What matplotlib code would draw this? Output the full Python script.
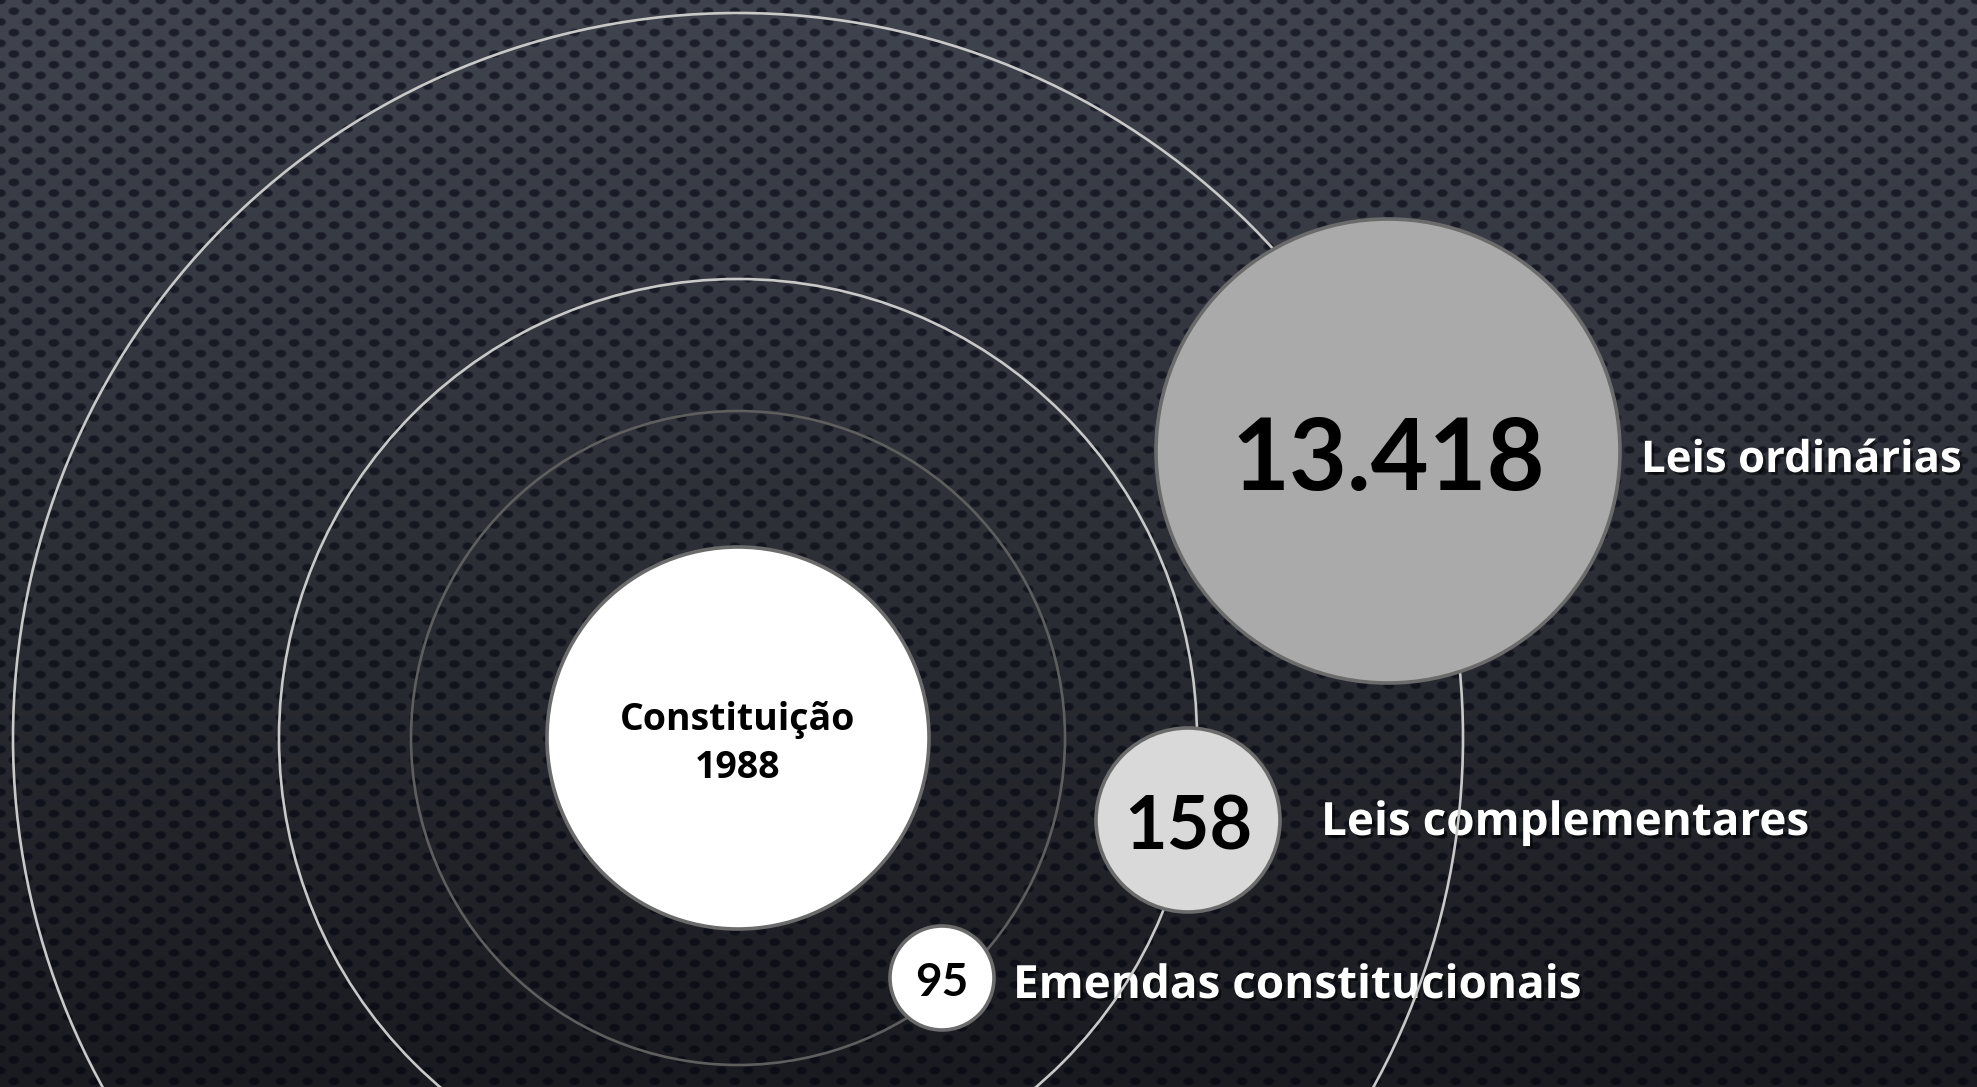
import numpy as np
import matplotlib
matplotlib.use("Agg")
import matplotlib.pyplot as plt
from matplotlib.patches import Circle
import matplotlib.patheffects as pe

# ---- data ----
center_title = "Constituição"
center_year = 1988
categories = ["Emendas constitucionais", "Leis complementares", "Leis ordinárias"]
values = [95, 158, 13418]

# ---- layout (pixels) ----
W, H = 1977, 1087
CX, CY = 738, 738
ring_radii = [327, 459, 725]
ring_colors = ["#5e5e5e", "#c9c9c9", "#c9c9c9"]
bubble_xy = [(942, 978), (1188, 820), (1388, 451)]
bubble_r = [52, 92, 232]
bubble_fill = ["#ffffff", "#d9d9d9", "#aaaaaa"]
num_size = [33, 53, 72]
num_baseline = [996, 849, 490]
label_x = [1013, 1321, 1641]
label_size = [33, 33, 31.5]
label_baseline = [998, 835, 472]

fig = plt.figure(figsize=(W / 100, H / 100), dpi=100)
ax = fig.add_axes([0, 0, 1, 1])
ax.set_xlim(0, W)
ax.set_ylim(H, 0)
ax.axis("off")

# ---- background: vertical gradient with perforated dot texture ----
yy, xx = np.mgrid[0:H, 0:W].astype(float)
t = yy / H
top = np.array([64, 68, 78]) / 255
bot = np.array([26, 27, 32]) / 255
base = top[None, None, :] * (1 - t[..., None]) + bot[None, None, :] * t[..., None]
dy, dx = 10.7, 26.7
r = np.round(yy / dy)
cy = r * dy
off = (r % 2) * dx / 2
c = np.round((xx - off) / dx)
cxp = c * dx + off
d = ((xx - cxp) / 5.0) ** 2 + ((yy - cy) / 3.6) ** 2
dot = np.clip(1.6 - d, 0, 1)[..., None]
dotcol = base * 0.45 + np.array([0.0, 0.005, 0.03])[None, None, :]
bg = base * (1 - dot) + dotcol * dot
ax.imshow(np.clip(bg, 0, 1), extent=[0, W, H, 0], zorder=0, interpolation="bilinear")

shadow = [pe.SimplePatchShadow(offset=(2, -2), shadow_rgbFace="black", alpha=0.55), pe.Normal()]

# ---- category labels (beneath ring lines) ----
for name, x, yb, fs in zip(categories, label_x, label_baseline, label_size):
    ax.text(x, yb, name, color="white", fontsize=fs, fontweight="bold",
            family="Open Sans", ha="left", va="baseline", zorder=1, path_effects=shadow)

# ---- orbit rings ----
for rr, col in zip(ring_radii, ring_colors):
    ax.add_patch(Circle((CX, CY), rr, fill=False, edgecolor=col, linewidth=1.9, zorder=2))

# ---- central circle ----
ax.add_patch(Circle((CX, CY), 191, facecolor="white", edgecolor="#6b6b6b", linewidth=2.6, zorder=3))
ax.text(CX, 730, center_title, color="black", fontsize=27, fontweight="bold",
        family="Open Sans", ha="center", va="baseline", zorder=4)
ax.text(CX, 778, str(center_year), color="black", fontsize=27, fontweight="bold",
        family="Open Sans", ha="center", va="baseline", zorder=4)

# ---- value bubbles ----
for v, (bx, by), br, fc, fs, yb in zip(values, bubble_xy, bubble_r, bubble_fill, num_size, num_baseline):
    ax.add_patch(Circle((bx, by), br, facecolor=fc, edgecolor="#6b6b6b", linewidth=2.6, zorder=3))
    lab = f"{v:,}".replace(",", ".")
    ax.text(bx, yb, lab, color="black", fontsize=fs, fontweight="bold",
            family="Lato", ha="center", va="baseline", zorder=4)

fig.savefig("out.png", dpi=100)
